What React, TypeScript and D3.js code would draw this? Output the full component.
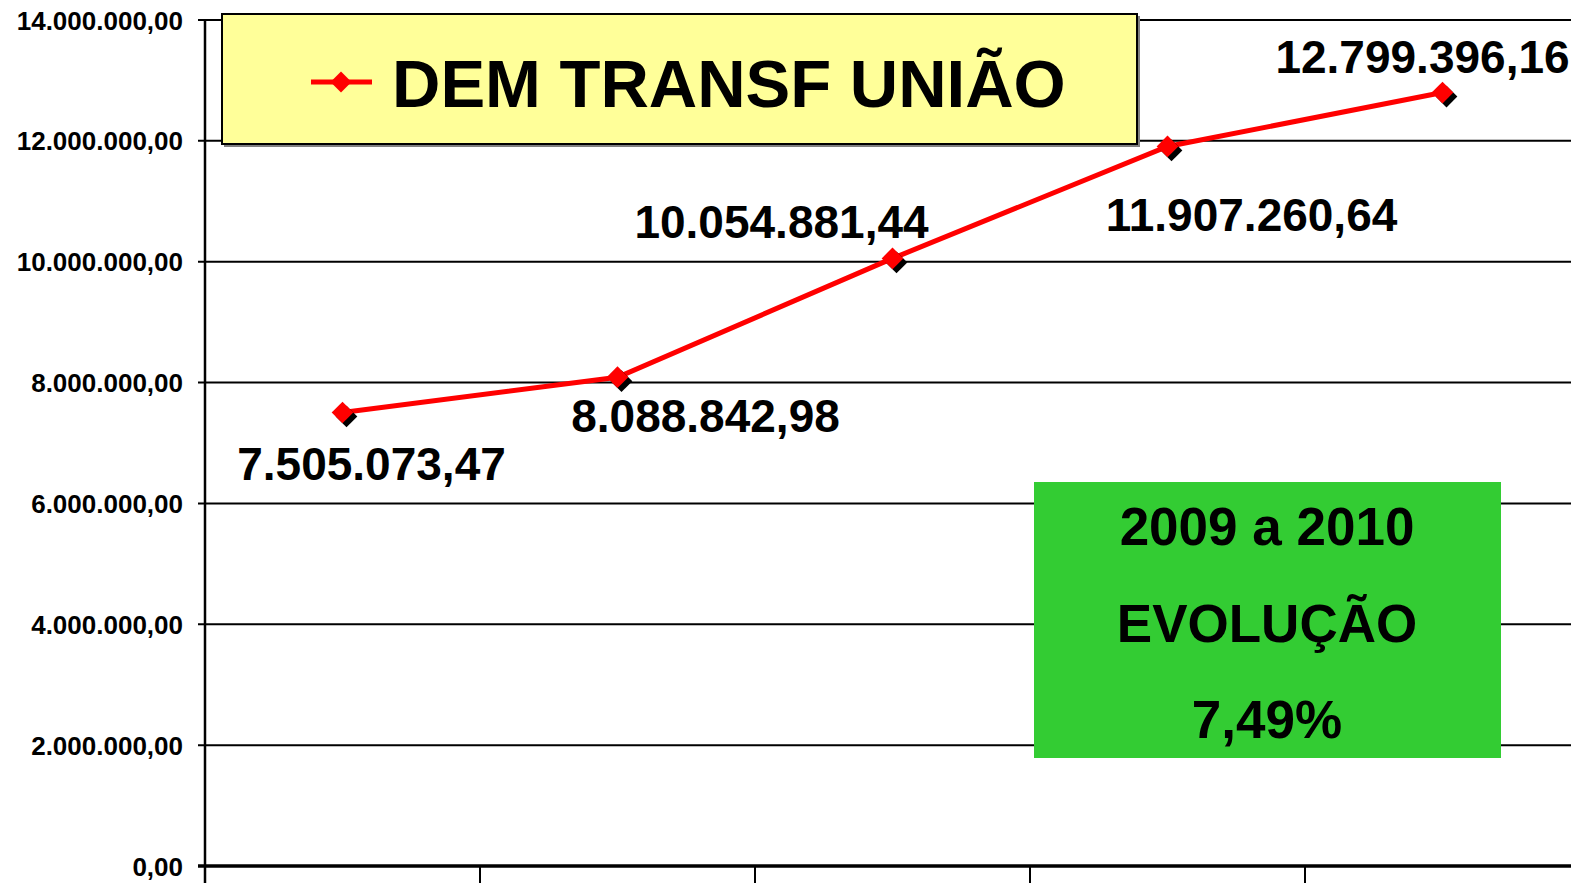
import React, { useEffect, useRef } from "react";
import * as d3 from "d3";

const categories = ["2006", "2007", "2008", "2009", "2010"];
const values = [7505073.47, 8088842.98, 10054881.44, 11907260.64, 12799396.16];
const yTicks = [0, 2000000, 4000000, 6000000, 8000000, 10000000, 12000000, 14000000];
const seriesName = "DEM TRANSF UNIÃO";
const boxLines = ["2009 a 2010", "EVOLUÇÃO", "7,49%"];

// label offsets from each point (dx, dy)
const labelOffsets = [
  [29, 68],
  [88, 55],
  [-111, -20],
  [84, 85],
  [-20, -20],
];

const W = 1571;
const H = 883;
const FONT = "'Liberation Sans', Arial, sans-serif";

const fmt = (v: number) => {
  const s = v.toFixed(2).split(".");
  return s[0].replace(/\B(?=(\d{3})+(?!\d))/g, ".") + "," + s[1];
};

const App = () => {
  const ref = useRef<SVGSVGElement>(null);

  useEffect(() => {
    const svg = d3.select(ref.current);
    svg.selectAll("*").remove();

    const left = 205;
    const top = 20;
    const bottom = 866;
    const step = 275;

    const x = d3
      .scaleBand()
      .domain(categories)
      .range([left, left + step * categories.length]);
    const y = d3.scaleLinear().domain([0, 14000000]).range([bottom, top]);

    // gridlines
    svg
      .append("g")
      .selectAll("line")
      .data(yTicks)
      .enter()
      .append("line")
      .attr("x1", left - 7)
      .attr("x2", W)
      .attr("y1", (d) => y(d))
      .attr("y2", (d) => y(d))
      .attr("stroke", "#000")
      .attr("stroke-width", 2);

    // y labels
    svg
      .append("g")
      .selectAll("text")
      .data(yTicks)
      .enter()
      .append("text")
      .attr("x", 183)
      .attr("y", (d) => y(d) + 9.5)
      .attr("text-anchor", "end")
      .attr("font-family", FONT)
      .attr("font-weight", "bold")
      .attr("font-size", 26)
      .text((d) => fmt(d));

    // axes
    svg
      .append("line")
      .attr("x1", left)
      .attr("x2", left)
      .attr("y1", top)
      .attr("y2", H)
      .attr("stroke", "#000")
      .attr("stroke-width", 2.5);
    svg
      .append("line")
      .attr("x1", left - 7)
      .attr("x2", W)
      .attr("y1", bottom)
      .attr("y2", bottom)
      .attr("stroke", "#000")
      .attr("stroke-width", 3.5);
    svg
      .append("g")
      .selectAll("line")
      .data(categories.slice(1))
      .enter()
      .append("line")
      .attr("x1", (d) => x(d)!)
      .attr("x2", (d) => x(d)!)
      .attr("y1", bottom)
      .attr("y2", H)
      .attr("stroke", "#000")
      .attr("stroke-width", 2);

    // legend box
    svg
      .append("rect")
      .attr("x", 224)
      .attr("y", 16)
      .attr("width", 916)
      .attr("height", 131)
      .attr("fill", "#808080");
    svg
      .append("rect")
      .attr("x", 222)
      .attr("y", 14)
      .attr("width", 915)
      .attr("height", 130)
      .attr("fill", "#FFFF99")
      .attr("stroke", "#000")
      .attr("stroke-width", 2);
    svg
      .append("line")
      .attr("x1", 311)
      .attr("x2", 372)
      .attr("y1", 82)
      .attr("y2", 82)
      .attr("stroke", "#FF0000")
      .attr("stroke-width", 5);
    svg
      .append("path")
      .attr("d", d3.symbol(d3.symbolDiamond2, 280)())
      .attr("transform", "translate(341,82)")
      .attr("fill", "#FF0000");
    svg
      .append("text")
      .attr("x", 392)
      .attr("y", 107)
      .attr("font-family", FONT)
      .attr("font-weight", "bold")
      .attr("font-size", 67)
      .text(seriesName);

    // line
    const line = d3
      .line<number>()
      .x((d, i) => x(categories[i])! + x.bandwidth() / 2)
      .y((d) => y(d));
    svg
      .append("path")
      .datum(values)
      .attr("d", line)
      .attr("fill", "none")
      .attr("stroke", "#FF0000")
      .attr("stroke-width", 5);

    const diamond = d3.symbol(d3.symbolDiamond2, 300)();
    const pts = svg
      .append("g")
      .selectAll("g")
      .data(values)
      .enter()
      .append("g")
      .attr(
        "transform",
        (d, i) => `translate(${x(categories[i])! + x.bandwidth() / 2},${y(d)})`
      );
    pts
      .append("path")
      .attr("d", diamond)
      .attr("transform", "translate(4,4)")
      .attr("fill", "#000");
    pts.append("path").attr("d", diamond).attr("fill", "#FF0000");
    pts
      .append("text")
      .attr("x", (d, i) => labelOffsets[i][0])
      .attr("y", (d, i) => labelOffsets[i][1])
      .attr("text-anchor", "middle")
      .attr("font-family", FONT)
      .attr("font-weight", "bold")
      .attr("font-size", 46)
      .text((d) => fmt(d));

    // evolution box
    svg
      .append("rect")
      .attr("x", 1034)
      .attr("y", 482)
      .attr("width", 467)
      .attr("height", 276)
      .attr("fill", "#33CC33");
    svg
      .append("g")
      .selectAll("text")
      .data(boxLines)
      .enter()
      .append("text")
      .attr("x", 1267)
      .attr("y", (d, i) => 545 + i * 96.5)
      .attr("text-anchor", "middle")
      .attr("font-family", FONT)
      .attr("font-weight", "bold")
      .attr("font-size", 53)
      .text((d) => d);
  }, []);

  return (
    <div style={{ position: "fixed", left: 0, top: 0, width: W, height: H, background: "#fff" }}>
      <svg ref={ref} width={W} height={H} style={{ display: "block" }} />
    </div>
  );
};

export default App;
